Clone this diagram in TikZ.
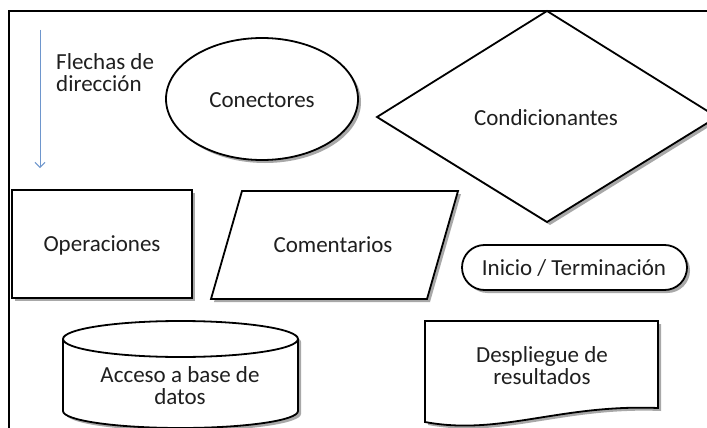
\documentclass[tikz,border=0pt]{standalone}
\usepackage{fontspec}
\setmainfont{Carlito}
\usetikzlibrary{arrows.meta,shadows}
\definecolor{arrowblue}{RGB}{110,150,205}
\tikzset{
  flowshape/.style={draw=black, line width=1.8pt, fill=white, line join=miter,
    drop shadow={shadow xshift=3pt, shadow yshift=-3pt, opacity=0.45, fill=black!75}},
  lbl/.style={font=\fontsize{23}{22}\selectfont, text=black!88, align=center, inner sep=0pt}
}
\begin{document}
\begin{tikzpicture}[x=1pt,y=-1pt]
\useasboundingbox (0,0) rectangle (707,428);
\clip (0,0) rectangle (707,428);
\fill[white] (0,0) rectangle (707,428);
% frame
\draw[line width=1.5pt] (9,440) -- (9,11) -- (720,11);
% arrow
\coordinate (astart) at (40,30);
\coordinate (aend) at (40,168);
\draw[arrowblue, line width=1pt, -{Straight Barb[length=5pt,width=10pt]}] (astart) -- (aend);
\node[lbl, align=left, anchor=west] (flechas) at (56,73) {Flechas de\\dirección};
% ellipse
\path[flowshape] (262,99) ellipse [x radius=96, y radius=61];
\node[lbl] (conectores) at (262,100) {Conectores};
% diamond
\path[flowshape] (547,11) -- (717,117) -- (547,222) -- (377,117) -- cycle;
\node[lbl] (condicionantes) at (546,118) {Condicionantes};
% rectangle
\path[flowshape] (12,190) rectangle (192,298);
\node[lbl] (operaciones) at (102,245) {Operaciones};
% parallelogram
\path[flowshape] (242,191) -- (458,191) -- (427,299) -- (211,299) -- cycle;
\node[lbl] (comentarios) at (333,245) {Comentarios};
% terminal
\path[flowshape, rounded corners=22.5pt] (462,245) rectangle (687,290);
\node[lbl] (inicio) at (574,268) {Inicio / Terminación};
% cylinder
\path[flowshape] (63,339) -- (63,411) arc[start angle=180, end angle=0, x radius=117.5, y radius=17] -- (298,339) arc[start angle=0, end angle=-180, x radius=117.5, y radius=18] -- cycle;
\draw[line width=1.8pt] (63,339) arc[start angle=180, end angle=0, x radius=117.5, y radius=18];
\node[lbl] (acceso) at (180,386) {Acceso a base de\\datos};
% document
\path[flowshape] (425,321) -- (658,321) -- (658,408) .. controls (560,404) and (500,436) .. (425,422) -- cycle;
\node[lbl] (despliegue) at (542,366) {Despliegue de\\resultados};
\end{tikzpicture}
\end{document}
